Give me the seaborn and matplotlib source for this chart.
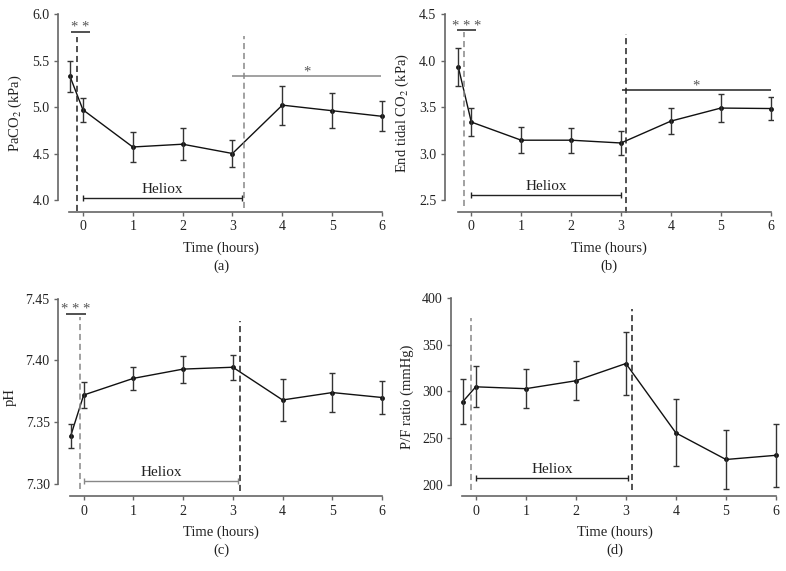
import numpy as np
import pandas as pd
import matplotlib
matplotlib.use("Agg")
import matplotlib.pyplot as plt
import seaborn as sns

# Valores (media e desvio por tempo)
tempos = [-0.26, 0, 1, 2, 3, 4, 5, 6]

paco2_media = [5.33, 4.97, 4.57, 4.60, 4.50, 5.02, 4.96, 4.90]
paco2_dp = [0.17, 0.13, 0.165, 0.17, 0.14, 0.21, 0.19, 0.16]

etco2_media = [3.93, 3.34, 3.145, 3.145, 3.115, 3.35, 3.49, 3.485]
etco2_dp = [0.20, 0.147, 0.14, 0.135, 0.125, 0.14, 0.15, 0.125]

ph_media = [7.339, 7.372, 7.3855, 7.393, 7.3945, 7.368, 7.374, 7.370]
ph_dp = [0.0095, 0.0105, 0.0095, 0.011, 0.010, 0.0173, 0.016, 0.013]

pf_media = [289, 305, 303, 311.5, 330, 255.5, 227, 231.5]
pf_dp = [24, 22, 21, 21, 33.5, 36, 31.5, 34]

xticks = [0, 1, 2, 3, 4, 5, 6]

sns.set_theme(style="ticks")
plt.rcParams['font.family'] = ['Liberation Serif', 'DejaVu Serif']
plt.rcParams['mathtext.fontset'] = 'stix'
plt.rcParams['font.size'] = 9.5

fig = plt.figure(figsize=(7.86, 5.71), dpi=100)

paineis = [
    dict(media=paco2_media, dp=paco2_dp, ylabel='PaCO$_2$ (kPa)', letra='(a)',
         rect=(58, 14, 384.5, 212), ylim=(3.871, 6.0), ybounds=(4.0, 6.0),
         yticks=[4.0, 4.5, 5.0, 5.5, 6.0], fmt='{:.1f}', xleft=-0.50,
         vlin=[(-0.11, 5.75, 3.885, '#222222'), (3.23, 5.76, 3.91, '#888888')],
         sig=[(-0.23, 0.14, 5.81, '* *', '#222222'), (3.0, 5.98, 5.33, '*', '#888888')],
         heliox=(0.0, 3.19, 4.02, '#222222')),
    dict(media=etco2_media, dp=etco2_dp, ylabel='End tidal CO$_2$ (kPa)', letra='(b)',
         rect=(444.7, 14, 773.2, 212), ylim=(2.374, 4.5), ybounds=(2.5, 4.5),
         yticks=[2.5, 3.0, 3.5, 4.0, 4.5], fmt='{:.1f}', xleft=-0.533,
         vlin=[(-0.14, 4.31, 2.44, '#888888'), (3.11, 4.29, 2.36, '#222222')],
         sig=[(-0.29, 0.09, 4.325, '* * *', '#222222'), (3.01, 6.0, 3.686, '*', '#222222')],
         heliox=(0.0, 3.0, 2.553, '#222222')),
    dict(media=ph_media, dp=ph_dp, ylabel='pH', letra='(c)',
         rect=(58, 298.7, 384.5, 496.3), ylim=(7.290, 7.45), ybounds=(7.30, 7.45),
         yticks=[7.30, 7.35, 7.40, 7.45], fmt='{:.2f}', xleft=-0.516,
         vlin=[(-0.07, 7.435, 7.296, '#888888'), (3.14, 7.432, 7.294, '#222222')],
         sig=[(-0.35, 0.04, 7.4379, '* * *', '#222222')],
         heliox=(0.01, 3.11, 7.3024, '#888888')),
    dict(media=pf_media, dp=pf_dp, ylabel='P/F ratio (mmHg)', letra='(d)',
         rect=(451, 298.3, 778.5, 496.3), ylim=(187.5, 400), ybounds=(200, 400),
         yticks=[200, 250, 300, 350, 400], fmt='{:.0f}', xleft=-0.495,
         vlin=[(-0.09, 379, 194.6, '#888888'), (3.12, 388.6, 194.3, '#222222')],
         sig=[],
         heliox=(0.0, 3.04, 207.2, '#222222')),
]

W, H = 786, 571
for p in paineis:
    x0, y0, x1, y1 = p['rect']
    ax = fig.add_axes([x0 / W, 1 - y1 / H, (x1 - x0) / W, (y1 - y0) / H])
    df = pd.DataFrame({'tempo': tempos, 'media': p['media'], 'dp': p['dp']})

    sns.lineplot(data=df, x='tempo', y='media', ax=ax, color='#111111', lw=1.0,
                 marker='o', markersize=3.5, markeredgewidth=0, sort=False)
    ax.errorbar(df['tempo'], df['media'], yerr=df['dp'], fmt='none',
                ecolor='#333333', elinewidth=1.0, capsize=2.5, capthick=1.0)

    for xv, ya, yb, cor in p['vlin']:
        ax.vlines(xv, yb, ya, colors=cor, linestyles=(0, (4, 2.5)), lw=1.1, clip_on=False)

    ax.set_xlim(p['xleft'], 6.05)
    ax.set_ylim(*p['ylim'])
    faixa = p['ylim'][1] - p['ylim'][0]

    for xa, xb, yv, txt, cor in p['sig']:
        ax.hlines(yv, xa, xb, colors=cor, lw=1.1, clip_on=False)
        ax.text((xa + xb) / 2, yv - faixa * 0.012, txt, ha='center', va='bottom',
                fontsize=10.5, color='#555555')

    ha, hb, hy, hcor = p['heliox']
    ax.hlines(hy, ha, hb, colors=hcor, lw=1.0)
    ax.plot([ha, hb], [hy, hy], ls='none', marker='|', markersize=5, color=hcor, mew=1.0)
    ax.text((ha + hb) / 2, hy + faixa * 0.012, 'Heliox', ha='center', va='bottom',
            fontsize=11, color='#222222')

    sns.despine(ax=ax)
    ax.spines['left'].set_bounds(*p['ybounds'])
    ax.spines['bottom'].set_bounds(-0.27, 6)
    for s in ('left', 'bottom'):
        ax.spines[s].set_color('#666666')
        ax.spines[s].set_linewidth(1.2)
    ax.set_xticks(xticks)
    ax.set_yticks(p['yticks'])
    ax.set_yticklabels([p['fmt'].format(v) for v in p['yticks']])
    ax.tick_params(axis='both', direction='out', length=3, width=1.0,
                   color='#666666', labelcolor='#222222', labelsize=10, pad=3)
    ax.set_xlabel('Time (hours)', fontsize=10.5, color='#222222', labelpad=6)
    ax.set_ylabel(p['ylabel'], fontsize=10.5, color='#222222', labelpad=6)
    ax.text(0.5, -0.24, p['letra'], transform=ax.transAxes, ha='center', va='top',
            fontsize=10.5, color='#222222')

fig.savefig('out.png', dpi=100)
